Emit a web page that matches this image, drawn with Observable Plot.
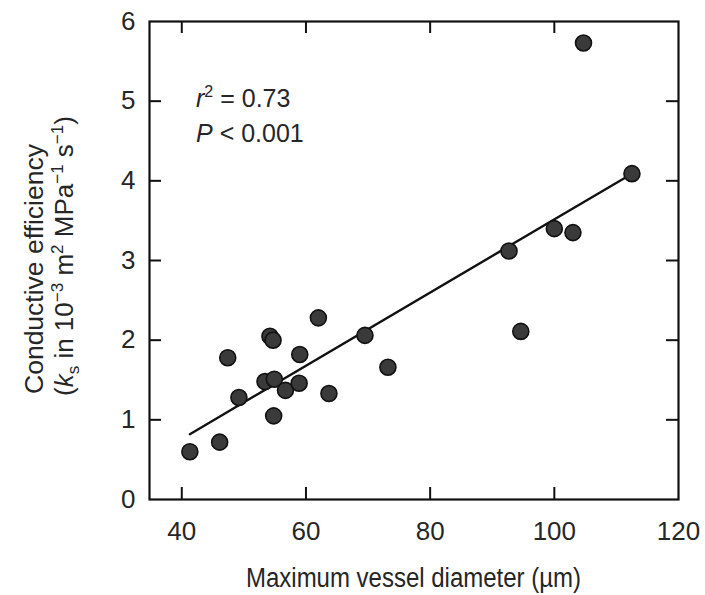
<!DOCTYPE html>
<html>
<head>
<meta charset="utf-8">
<script src="https://cdn.jsdelivr.net/npm/d3@7"></script>
<script src="https://cdn.jsdelivr.net/npm/@observablehq/plot@0.6"></script>
<style>
  html, body { margin: 0; padding: 0; background: #fff; }
  #chart svg { display: block; }
</style>
</head>
<body>
<div id="chart"></div>
<script>
// Data
const diameter = [41.3, 46.1, 47.4, 49.2, 53.4, 54.9, 56.7, 58.9, 59.0, 54.2, 54.7, 54.8, 62.0, 63.7, 69.5, 73.2, 92.7, 94.6, 100.0, 103.0, 104.7, 112.5];
const efficiency = [0.60, 0.72, 1.78, 1.28, 1.48, 1.51, 1.37, 1.46, 1.82, 2.05, 2.00, 1.05, 2.28, 1.33, 2.06, 1.66, 3.12, 2.11, 3.40, 3.35, 5.73, 4.09];
// regression line end points (as drawn)
const fitDiameter = [41.3, 112.5];
const fitEfficiency = [0.82, 4.09];
const xTicks = [40, 60, 80, 100, 120];
const yTicks = [0, 1, 2, 3, 4, 5, 6];
const xTitle = "Maximum vessel diameter (\u00b5m)";
const yTitle1 = "Conductive efficiency";

const points = diameter.map((d, i) => ({x: d, y: efficiency[i]}));
const fit = fitDiameter.map((d, i) => ({x: d, y: fitEfficiency[i]}));

const W = 705, H = 595;
const mL = 149, mR = 27, mT = 21, mB = 96;
const pw = W - mL - mR, ph = H - mT - mB;
const tick = 12;
const ink = "#262626";
const font = "'Liberation Sans', Arial, Helvetica, sans-serif";

const chart = Plot.plot({
  width: W, height: H,
  marginLeft: mL, marginRight: mR, marginTop: mT, marginBottom: mB,
  style: {fontFamily: font, fontSize: "26px", background: "#fff"},
  x: {domain: [34.8, 120]},
  y: {domain: [0, 6]},
  marks: [
    Plot.axisX(xTicks, {tickSize: 0, tickPadding: 22, label: null, fontSize: 26, fill: ink, tickFormat: "d"}),
    Plot.axisY(yTicks, {tickSize: 0, tickPadding: 14, label: null, fontSize: 26, fill: ink, tickFormat: "d"}),
    // inward ticks on all four sides
    Plot.ruleX(xTicks.slice(0, -1), {x: d => d, insetTop: ph - tick, stroke: "#111", strokeWidth: 2}),
    Plot.ruleX(xTicks.slice(0, -1), {x: d => d, insetBottom: ph - tick, stroke: "#111", strokeWidth: 2}),
    Plot.ruleY(yTicks.slice(1, -1), {y: d => d, insetRight: pw - tick, stroke: "#111", strokeWidth: 2}),
    Plot.ruleY(yTicks.slice(1, -1), {y: d => d, insetLeft: pw - tick, stroke: "#111", strokeWidth: 2}),
    Plot.frame({stroke: "#111", strokeWidth: 2.2}),
    Plot.line(fit, {x: "x", y: "y", stroke: "#111", strokeWidth: 2.4}),
    Plot.dot(points, {x: "x", y: "y", r: 8, fill: "#3a3a3a", stroke: "#111", strokeWidth: 1.6})
  ]
});

const svg = d3.select(chart);
svg.selectAll('g[aria-label="x-axis tick label"] text, g[aria-label="y-axis tick label"] text')
  .attr("font-size", 26);

// x-axis title
svg.append("text")
  .attr("x", mL + pw / 2).attr("y", 587)
  .attr("text-anchor", "middle")
  .attr("font-family", font).attr("font-size", 27).attr("fill", ink)
  .attr("textLength", 335).attr("lengthAdjust", "spacingAndGlyphs")
  .text(xTitle);

// y-axis title (two lines, rotated)
svg.append("text")
  .attr("transform", "translate(43,394) rotate(-90)")
  .attr("text-anchor", "start")
  .attr("font-family", font).attr("font-size", 26).attr("fill", ink)
  .attr("textLength", 250).attr("lengthAdjust", "spacingAndGlyphs")
  .text(yTitle1);

const yt2 = svg.append("text")
  .attr("transform", "translate(73,396) rotate(-90)")
  .attr("text-anchor", "start")
  .attr("font-family", font).attr("font-size", 26).attr("fill", ink);
yt2.append("tspan").text("(");
yt2.append("tspan").attr("font-style", "italic").text("k");
yt2.append("tspan").attr("font-size", 17).attr("dy", 6).text("s");
yt2.append("tspan").attr("dy", -6).text(" in 10");
yt2.append("tspan").attr("font-size", 17).attr("dy", -10).text("\u22123");
yt2.append("tspan").attr("dy", 10).text(" m");
yt2.append("tspan").attr("font-size", 17).attr("dy", -10).text("2");
yt2.append("tspan").attr("dy", 10).text(" MPa");
yt2.append("tspan").attr("font-size", 17).attr("dy", -10).text("\u22121");
yt2.append("tspan").attr("dy", 10).text(" s");
yt2.append("tspan").attr("font-size", 17).attr("dy", -10).text("\u22121");
yt2.append("tspan").attr("dy", 10).text(")");

// statistics annotation
const a1 = svg.append("text")
  .attr("x", 196).attr("y", 107)
  .attr("text-anchor", "start")
  .attr("font-family", font).attr("font-size", 25).attr("fill", ink);
a1.append("tspan").attr("font-style", "italic").text("r");
a1.append("tspan").attr("font-size", 16).attr("dy", -10).text("2");
a1.append("tspan").attr("dy", 10).text(" = 0.73");

const a2 = svg.append("text")
  .attr("x", 196).attr("y", 142)
  .attr("text-anchor", "start")
  .attr("font-family", font).attr("font-size", 25).attr("fill", ink);
a2.append("tspan").attr("font-style", "italic").text("P");
a2.append("tspan").text(" < 0.001");

document.getElementById("chart").appendChild(chart);
</script>
</body>
</html>
